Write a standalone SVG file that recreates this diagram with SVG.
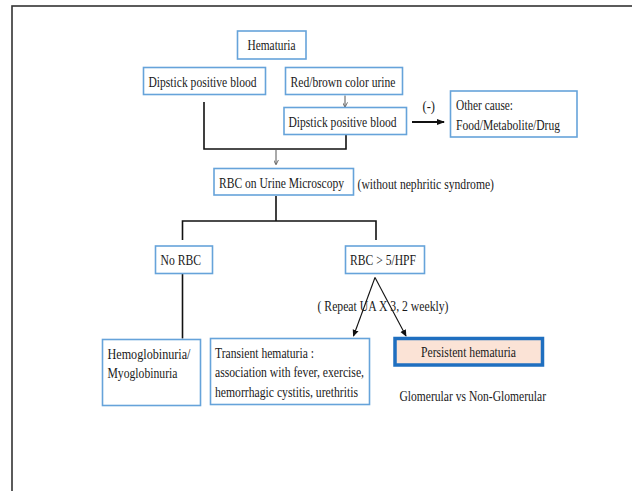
<svg xmlns="http://www.w3.org/2000/svg" width="632" height="491" viewBox="0 0 632 491">
  <style>
    .box { fill: #ffffff; stroke: #66a3da; stroke-width: 1.6; }
    .key { fill: #fbe3d6; stroke: #1f6fc0; stroke-width: 3.5; }
    .t { font-family: "Liberation Serif", "Times New Roman", serif; font-size: 14px; fill: #1a1a1a; }
    .line { fill: none; stroke: #111; stroke-width: 1.6; }
    .thin { fill: none; stroke: #555; stroke-width: 1; }
    .arrow { fill: none; stroke: #111; stroke-width: 1.1; }
    .bold { fill: none; stroke: #111; stroke-width: 2; }
  </style>
  <defs>
    <marker id="tiny" viewBox="0 0 6 6" refX="5" refY="3" markerWidth="5" markerHeight="5" orient="auto" markerUnits="userSpaceOnUse">
      <path d="M0,0 L6,3 L0,6" fill="none" stroke="#555" stroke-width="1"/>
    </marker>
    <marker id="head" viewBox="0 0 8 8" refX="7" refY="4" markerWidth="7" markerHeight="7" orient="auto" markerUnits="userSpaceOnUse">
      <path d="M0,0.5 L8,4 L0,7.5 Z" fill="#111"/>
    </marker>
    <marker id="solid" viewBox="0 0 8 8" refX="7" refY="4" markerWidth="8" markerHeight="8" orient="auto" markerUnits="userSpaceOnUse">
      <path d="M0,1 L8,4 L0,7 Z" fill="#111"/>
    </marker>
  </defs>

  <!-- outer frame -->
  <rect x="12" y="6" width="640" height="500" fill="none" stroke="#333" stroke-width="1.6"/>

  <!-- connectors -->
  <g id="connectors">
    <path class="thin" d="M345,95.5 V106.5" marker-end="url(#tiny)"/>
    <path class="line" d="M204,102 V149 H346 V135"/>
    <path class="thin" d="M276,150 V164" marker-end="url(#tiny)"/>
    <path class="bold" d="M412,122 H444" marker-end="url(#solid)"/>
    <path class="line" d="M276,196 V221 M182.5,240 V221 H376 V240"/>
    <path class="line" d="M182.5,274 V338.5"/>
    <path class="arrow" d="M375,277.5 L353.5,336" marker-end="url(#head)"/>
    <path class="arrow" d="M375,277.5 L406,336" marker-end="url(#head)"/>
  </g>

  <g id="hematuria">
    <rect class="box" x="237.5" y="31" width="68.5" height="28"/>
    <text class="t" x="247.5" y="50" textLength="48" lengthAdjust="spacingAndGlyphs">Hematuria</text>
  </g>

  <g id="dipstick-left">
    <rect class="box" x="143.5" y="67.5" width="122" height="27"/>
    <text class="t" x="148.5" y="86.5" textLength="108" lengthAdjust="spacingAndGlyphs">Dipstick positive blood</text>
  </g>

  <g id="red-brown-urine">
    <rect class="box" x="285.5" y="67.5" width="117" height="27"/>
    <text class="t" x="290.5" y="86.5" textLength="105" lengthAdjust="spacingAndGlyphs">Red/brown color urine</text>
  </g>

  <g id="dipstick-right">
    <rect class="box" x="284" y="107.5" width="122.5" height="27"/>
    <text class="t" x="288.5" y="126.5" textLength="108" lengthAdjust="spacingAndGlyphs">Dipstick positive blood</text>
  </g>

  <g id="negative-label">
    <text class="t" x="422.5" y="111" textLength="12.5" lengthAdjust="spacingAndGlyphs">(-)</text>
  </g>

  <g id="other-cause">
    <rect class="box" x="450.5" y="91" width="126.5" height="46"/>
    <text class="t" x="456" y="110" textLength="57" lengthAdjust="spacingAndGlyphs">Other cause:</text>
    <text class="t" x="456" y="129.5" textLength="104" lengthAdjust="spacingAndGlyphs">Food/Metabolite/Drug</text>
  </g>

  <g id="microscopy">
    <rect class="box" x="214" y="168.5" width="139.5" height="26.5"/>
    <text class="t" x="219" y="188" textLength="125" lengthAdjust="spacingAndGlyphs">RBC on Urine Microscopy</text>
    <text class="t" x="357.5" y="189" textLength="136.5" lengthAdjust="spacingAndGlyphs">(without nephritic syndrome)</text>
  </g>

  <g id="no-rbc">
    <rect class="box" x="155.5" y="246" width="57" height="27.5"/>
    <text class="t" x="160.5" y="265" textLength="40.5" lengthAdjust="spacingAndGlyphs">No RBC</text>
  </g>

  <g id="rbc-hpf">
    <rect class="box" x="345.5" y="246" width="79" height="27.5"/>
    <text class="t" x="350" y="265" textLength="66" lengthAdjust="spacingAndGlyphs">RBC &gt; 5/HPF</text>
  </g>

  <g id="repeat-label">
    <text class="t" x="317.5" y="310.5" textLength="131" lengthAdjust="spacingAndGlyphs">( Repeat UA X 3, 2 weekly)</text>
  </g>

  <g id="hemoglobinuria">
    <rect class="box" x="102.5" y="339.5" width="98" height="66"/>
    <text class="t" x="107.5" y="359" textLength="83" lengthAdjust="spacingAndGlyphs">Hemoglobinuria/</text>
    <text class="t" x="107.5" y="378" textLength="70" lengthAdjust="spacingAndGlyphs">Myoglobinuria</text>
  </g>

  <g id="transient">
    <rect class="box" x="210.5" y="338.5" width="159" height="66"/>
    <text class="t" x="215" y="357.5" textLength="99" lengthAdjust="spacingAndGlyphs">Transient hematuria :</text>
    <text class="t" x="215" y="377" textLength="149" lengthAdjust="spacingAndGlyphs">association with fever, exercise,</text>
    <text class="t" x="215" y="396.5" textLength="143" lengthAdjust="spacingAndGlyphs">hemorrhagic cystitis, urethritis</text>
  </g>

  <g id="persistent">
    <rect class="key" x="395" y="338.5" width="147.5" height="26.5"/>
    <text class="t" x="421" y="357" textLength="95" lengthAdjust="spacingAndGlyphs">Persistent hematuria</text>
  </g>

  <g id="glomerular-label">
    <text class="t" x="399.5" y="400.5" textLength="146.5" lengthAdjust="spacingAndGlyphs">Glomerular vs Non-Glomerular</text>
  </g>
</svg>
